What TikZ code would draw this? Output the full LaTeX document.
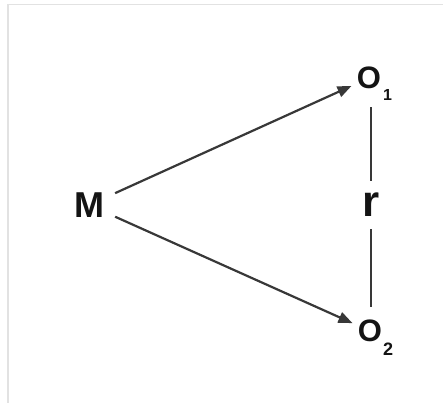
\documentclass[tikz,border=0pt]{standalone}
\usepackage{fontspec}
\setmainfont{Liberation Sans}
\usetikzlibrary{arrows.meta}
\definecolor{linegray}{HTML}{383838}
\definecolor{framegray}{HTML}{E2E2E2}
\begin{document}
\begin{tikzpicture}[x=1pt,y=-1pt,
  every node/.style={text=black!92, font=\bfseries},
  varnode/.style={circle, inner sep=0pt},
  subnode/.style={inner sep=0pt},
  link/.style={draw=linegray, line width=2.2pt},
  arrowlink/.style={link, -{Triangle[length=14pt,width=11pt]}}]
  % canvas and frame
  \fill[white] (0,0) rectangle (443,403);
  \useasboundingbox (0,0) rectangle (443,403);
  \draw[framegray, line width=1.5pt] (8,403) -- (8,4.5) -- (443,4.5);

  % variables
  \node[varnode, minimum size=57pt, font=\fontsize{36}{36}\bfseries\selectfont] (M) at (89,205) {M};
  \node[varnode, minimum size=38pt, font=\fontsize{31}{31}\bfseries\selectfont] (O1) at (369,78) {O};
  \node[varnode, minimum size=38pt, font=\fontsize{31}{31}\bfseries\selectfont] (O2) at (370,331) {O};
  \node[subnode, font=\fontsize{16}{16}\bfseries\selectfont] (s1) at (387.5,95) {1};
  \node[subnode, font=\fontsize{18}{18}\bfseries\selectfont] (s2) at (388,349) {2};

  % connectors
  \draw[arrowlink] (M) -- (O1);
  \draw[arrowlink] (M) -- (O2);
  \draw[link, shorten <=10pt, shorten >=5pt] (O1.south) ++(2pt,0) coordinate (top)
    (top) -- node[fill=white, inner sep=0pt, minimum height=48pt, minimum width=18pt,
                  font=\fontsize{44}{44}\bfseries\selectfont] (r) {r}
    (O2.north -| top);
\end{tikzpicture}
\end{document}
